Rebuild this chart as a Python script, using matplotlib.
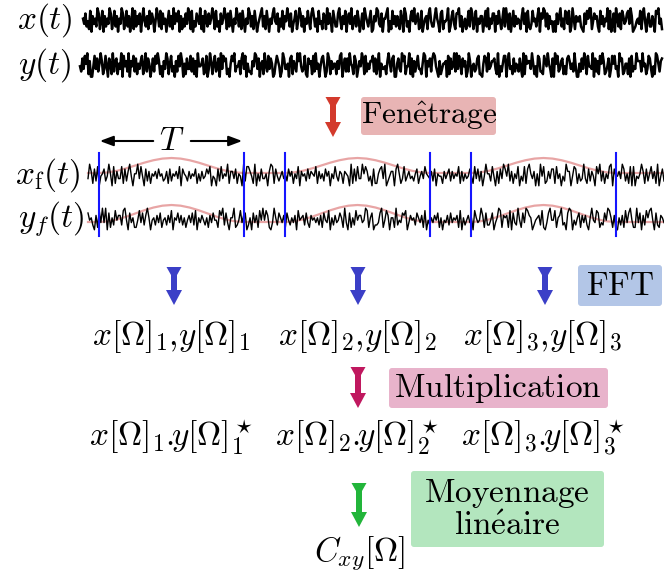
import numpy as np
import matplotlib
matplotlib.use("Agg")
import matplotlib.pyplot as plt
from matplotlib.patches import Polygon, FancyBboxPatch

plt.rcParams['mathtext.fontset'] = 'cm'
plt.rcParams['font.family'] = ['DejaVu Serif']

# ---------- données : bruits (un chiffre = un échantillon, 0..9) ----------
x_t_raw = ("4627581936470285193746028517394602851739"
           "5081736294057381624950371826495173806251"
           "9384726038195724608391572640381759264038"
           "2715946037281594602738159642073815946205"
           "6294718350372964185027394615820374916582"
           "3806259147720583619426085371496280357419"
           "8350167294420958163736814902759315064287"
           "1964382057730469218554097316822073964851"
           "7028519463395170846229361584070482951736"
           "4583062917861547309240172836595926307481"
           "2619704835537892614008524379163745081962"
           "9047281365216039875461830594277359120648")
y_t_raw = ("5726140839951627403861592480732846091537"
           "0935172846318507249627140385936028417593"
           "7150394826617283905542871960384175290613"
           "2869413075538206194778350162943805716249"
           "8413597026649218357030576189243817064952"
           "1597028364483610952727045813963502817463"
           "3172850946658304721994267031855082937416"
           "6840193527201579386443918265070614825397"
           "0395476218894127065332680957411930658274"
           "5726908143360485912778135046929041763285"
           "8213647059947260381556092738140387529614"
           "1659032874482917560333705486126958014732")
xf_raw = ("6038271954275049183661827305944061592738"
          "4536254763827453619245736452847365241956"
          "9271645083362845907113580947266493018257"
          "5364725384619354726345183647253946157348"
          "3459082716604137592884216097533920486175"
          "3657428536145637294558364273645183746525"
          "8162739504471593826025073846195718204639"
          "4905187362281649570339512847606827359140"
          "7384610925536027481919564038274163809527")
yf_raw = ("2547938160609284715337105926488516273049"
          "5473628547361945263748536271946357483625"
          "5813072694408751632974926381505138960472"
          "4638257463915437268354647382561947365248"
          "0692847153365018429776208513944807562319"
          "6354724638195746352849563726453819475364"
          "9146503827752964018343819267058260134975"
          "4371896205518430769201957428363794056128"
          "6725014839947381620588062937141059278346")

# fenêtre (forme de Hann), début des segments et durée T
window = [0, 0.04, 0.15, 0.31, 0.5, 0.69, 0.85, 0.96, 1,
          0.96, 0.85, 0.69, 0.5, 0.31, 0.15, 0.04, 0]
segment_starts = [99, 285, 471]
T = 145

row1_labels = [r"$x[\Omega]_1{,}y[\Omega]_1$", r"$x[\Omega]_2{,}y[\Omega]_2$",
               r"$x[\Omega]_3{,}y[\Omega]_3$"]
row2_labels = [r"$x[\Omega]_1.\!\!y[\Omega]_1^\star$", r"$x[\Omega]_2.\!\!y[\Omega]_2^\star$",
               r"$x[\Omega]_3.\!\!y[\Omega]_3^\star$"]


def digits(s):
    return np.array([int(c) for c in s], dtype=float) - 4.5


fig = plt.figure(figsize=(6.64, 5.74), dpi=100)
ax = fig.add_axes([0, 0, 1, 1])
ax.set_xlim(0, 664)
ax.set_ylim(574, 0)
ax.axis('off')

FS = 24


def fat_arrow(cx, top, bottom, color):
    hl = 15
    pts = [(cx - 7.5, top), (cx + 7.5, top), (cx + 3, top + 8), (cx + 3, bottom - hl),
           (cx + 8, bottom - hl), (cx, bottom), (cx - 8, bottom - hl),
           (cx - 3, bottom - hl), (cx - 3, top + 8)]
    ax.add_patch(Polygon(pts, closed=True, fc=color, ec='none'))


def box(x0, y0, x1, y1, color):
    ax.add_patch(FancyBboxPatch((x0, y0), x1 - x0, y1 - y0,
                                boxstyle='round,pad=0,rounding_size=3',
                                fc=color, ec='none'))


# ---------- 1. signaux bruts ----------
for raw, yc, x0, lab in [(x_t_raw, 20, 83, r"$x(t)$"), (y_t_raw, 65, 80, r"$y(t)$")]:
    v = digits(raw)
    xs = np.linspace(x0, 662, len(v))
    ax.plot(xs, yc + 2.6 * v, color='black', lw=1.8)
    ax.text(45, yc, lab, fontsize=FS, ha='center', va='center')

# ---------- 2. fenêtrage ----------
fat_arrow(333, 97, 137, '#d33a2c')
box(361, 97, 496, 135, '#e8b4b4')
ax.text(429, 116, r"$\mathrm{Fen\hat{e}trage}$", fontsize=22.5, ha='center', va='center')

ax.annotate('', xy=(97, 141), xytext=(156, 141),
            arrowprops=dict(arrowstyle='-|>,head_length=0.8,head_width=0.3', color='black', lw=1.5))
ax.annotate('', xy=(245, 141), xytext=(188, 141),
            arrowprops=dict(arrowstyle='-|>,head_length=0.8,head_width=0.3', color='black', lw=1.5))
ax.text(172, 141, r"$T$", fontsize=FS, ha='center', va='center')

for raw, yc, edge, amp, lab, lx in [(xf_raw, 175, 173, 15, r"$x_\mathrm{f}(t)$", 47),
                                    (yf_raw, 219, 222, 17, r"$y_f(t)$", 51)]:
    # fenêtre rose
    wx, wy = [88], [edge]
    for s in segment_starts:
        wx += list(np.linspace(s, s + T, len(window)))
        wy += [edge - amp * w for w in window]
    wx.append(664)
    wy.append(edge)
    ax.plot(wx, wy, color='#e8a5a5', lw=1.6, zorder=1)
    v = digits(raw)
    xs = np.linspace(88, 664, len(v))
    ax.plot(xs, yc + 2.4 * v, color='black', lw=1.0, zorder=2)
    ax.text(lx, yc, lab, fontsize=FS, ha='center', va='center')

for s in segment_starts:
    for xl in (s, s + T):
        ax.plot([xl, xl], [153, 236], color='#1515ff', lw=1.5, zorder=3)

# ---------- 3. FFT ----------
centers = [171, 357, 543]
for cx in [174, 358, 545]:
    fat_arrow(cx, 267, 305, '#3b3fc7')
box(578, 265, 662, 306, '#b3c6e7')
ax.text(620, 286, r"$\mathrm{FFT}$", fontsize=FS, ha='center', va='center')
for cx, lab in zip(centers, row1_labels):
    ax.text(cx, 337, lab, fontsize=FS, ha='center', va='center')

# ---------- 4. multiplication ----------
fat_arrow(358, 367, 408, '#c0185f')
box(389, 368, 608, 408, '#e8b3cb')
ax.text(498, 388, r"$\mathrm{Multiplication}$", fontsize=FS, ha='center', va='center')
for cx, lab in zip(centers, row2_labels):
    ax.text(cx, 437, lab, fontsize=FS, ha='center', va='center')

# ---------- 5. moyennage ----------
fat_arrow(359, 483, 527, '#22b53a')
box(411, 471, 604, 547, '#b3e6be')
ax.text(507, 494, r"$\mathrm{Moyennage}$", fontsize=FS, ha='center', va='center')
ax.text(507, 526, r"$\mathrm{lin\acute{e}aire}$", fontsize=FS, ha='center', va='center')
ax.text(360, 553, r"$C_{xy}[\Omega]$", fontsize=FS, ha='center', va='center')

fig.savefig('out.png', dpi=100)
